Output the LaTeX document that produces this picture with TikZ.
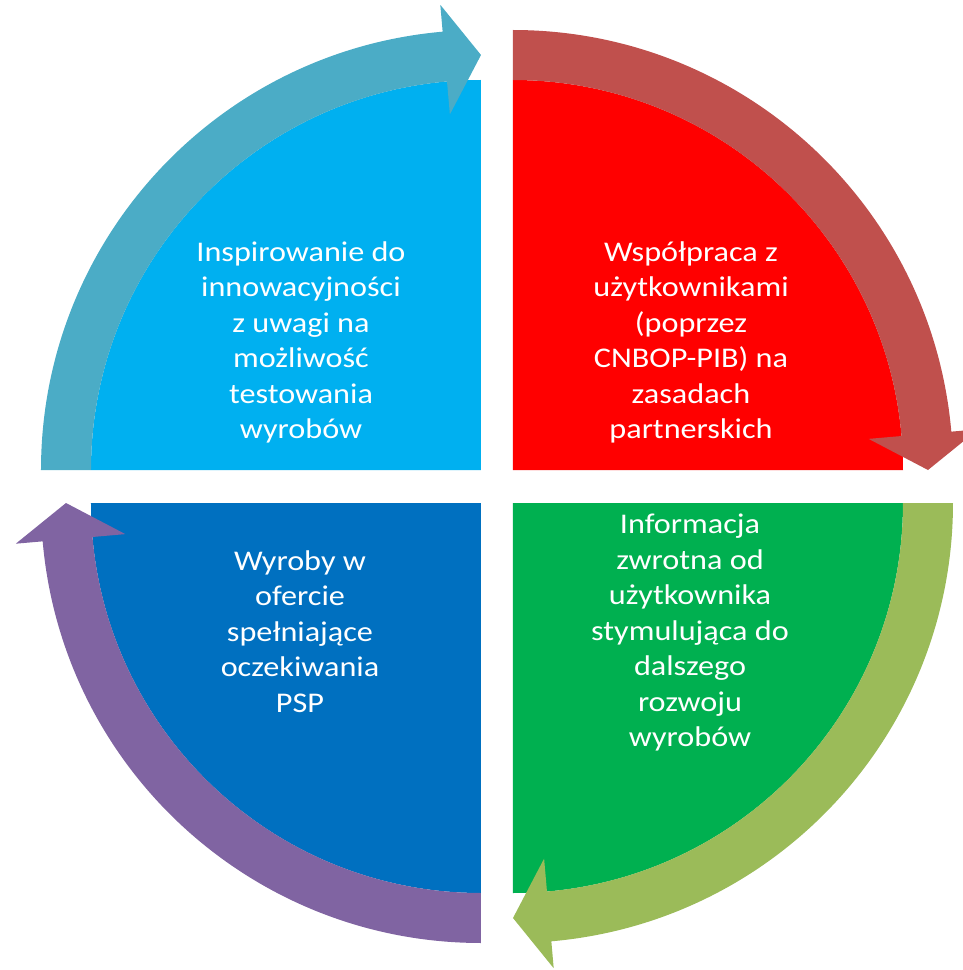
\documentclass[tikz,border=0pt]{standalone}
\usepackage{fontspec}
\setmainfont{Carlito}[FakeStretch=1.13]
\usepackage{xcolor}
\usepackage{tikz}

\definecolor{skyfill}{HTML}{00B0F0}
\definecolor{skyarrow}{HTML}{4BACC6}
\definecolor{redfill}{HTML}{FF0000}
\definecolor{redarrow}{HTML}{C0504D}
\definecolor{greenfill}{HTML}{00B050}
\definecolor{greenarrow}{HTML}{9BBB59}
\definecolor{bluefill}{HTML}{0070C0}
\definecolor{bluearrow}{HTML}{8064A2}

\begin{document}
\begin{tikzpicture}[
    x=1pt, y=1pt,
    font=\fontsize{28.5}{35.5}\selectfont,
    quadtext/.style={text=white, align=center, inner sep=0pt}
]

% ramka obrazu
\useasboundingbox (-497,-483.5) rectangle (466,486.5);

% ćwiartki
\fill[skyfill] (-16,16.5) -- ++(180:390) arc[start angle=180, end angle=90, radius=390] -- cycle;
\fill[redfill] (16,16.5) -- ++(90:390) arc[start angle=90, end angle=0, radius=390] -- cycle;
\fill[greenfill] (16,-16.5) -- ++(0:390) arc[start angle=0, end angle=-90, radius=390] -- cycle;
\fill[bluefill] (-16,-16.5) -- ++(-90:390) arc[start angle=-90, end angle=-180, radius=390] -- cycle;

% strzałki łukowe
\begin{scope}[shift={(-16,16.5)}]
\fill[skyarrow] (180:390) arc[start angle=180, end angle=95, radius=390] -- (95:357) -- (90:415) -- (95:467) -- (95:440) arc[start angle=95, end angle=180, radius=440] -- cycle;
\end{scope}
\begin{scope}[shift={(16,16.5)}]
\fill[redarrow] (90:390) arc[start angle=90, end angle=5, radius=390] -- (5:357) -- (0:415) -- (5:467) -- (5:440) arc[start angle=5, end angle=90, radius=440] -- cycle;
\end{scope}
\begin{scope}[shift={(16,-16.5)}]
\fill[greenarrow] (0:390) arc[start angle=0, end angle=-85, radius=390] -- (-85:357) -- (-90:415) -- (-85:467) -- (-85:440) arc[start angle=-85, end angle=0, radius=440] -- cycle;
\end{scope}
\begin{scope}[shift={(-16,-16.5)}]
\fill[bluearrow] (-90:390) arc[start angle=-90, end angle=-175, radius=390] -- (-175:357) -- (-180:415) -- (-175:467) -- (-175:440) arc[start angle=-175, end angle=-90, radius=440] -- cycle;
\end{scope}

% teksty
\node[quadtext] (inspiracja) at (-196,144) {Inspirowanie do\\innowacyjności\\z uwagi na\\możliwość\\testowania\\wyrobów};
\node[quadtext] (wspolpraca) at (194,144) {Współpraca z\\użytkownikami\\(poprzez\\CNBOP-PIB) na\\zasadach\\partnerskich};
\node[quadtext] (informacja) at (193,-146) {Informacja\\zwrotna od\\użytkownika\\stymulująca do\\dalszego\\rozwoju\\wyrobów};
\node[quadtext] (wyroby) at (-197,-145) {Wyroby w\\ofercie\\spełniające\\oczekiwania\\PSP};

\end{tikzpicture}
\end{document}
